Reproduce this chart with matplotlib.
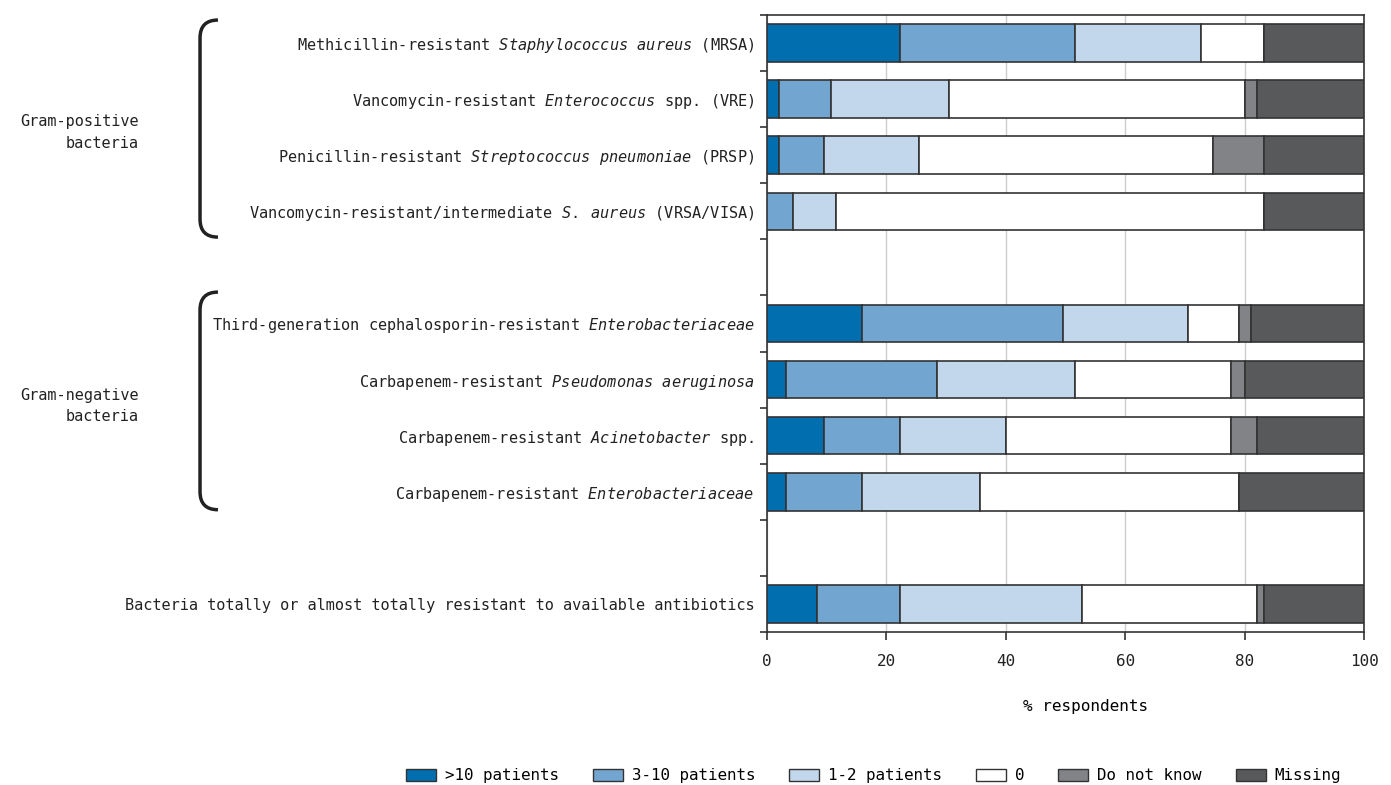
import matplotlib as mpl
import matplotlib.pyplot as plt
import numpy as np
from matplotlib.path import Path
from matplotlib.patches import PathPatch, Patch
from matplotlib.transforms import blended_transform_factory

mpl.rcParams["font.family"] = "DejaVu Sans Mono"
mpl.rcParams["font.size"] = 11
mpl.rcParams["mathtext.fontset"] = "custom"
mpl.rcParams["mathtext.rm"] = "DejaVu Sans Mono"
mpl.rcParams["mathtext.it"] = "DejaVu Sans Mono:italic"

# rows top to bottom, None = blank spacer row
labels = [
    r"Methicillin-resistant $\mathit{Staphylococcus}$ $\mathit{aureus}$ (MRSA)",
    r"Vancomycin-resistant $\mathit{Enterococcus}$ spp. (VRE)",
    r"Penicillin-resistant $\mathit{Streptococcus}$ $\mathit{pneumoniae}$ (PRSP)",
    r"Vancomycin-resistant/intermediate $\mathit{S.}$ $\mathit{aureus}$ (VRSA/VISA)",
    None,
    r"Third-generation cephalosporin-resistant $\mathit{Enterobacteriaceae}$",
    r"Carbapenem-resistant $\mathit{Pseudomonas}$ $\mathit{aeruginosa}$",
    r"Carbapenem-resistant $\mathit{Acinetobacter}$ spp.",
    r"Carbapenem-resistant $\mathit{Enterobacteriaceae}$",
    None,
    "Bacteria totally or almost totally resistant to available antibiotics",
]

over_10 = [22.2, 2.0, 2.0, 0.0, 0, 15.9, 3.2, 9.6, 3.2, 0, 8.4]
p3_10 = [29.4, 8.7, 7.6, 4.3, 0, 33.7, 25.3, 12.6, 12.7, 0, 13.8]
p1_2 = [21.1, 19.8, 15.8, 7.2, 0, 21.0, 23.1, 17.9, 19.8, 0, 30.6]
zero = [10.6, 49.6, 49.3, 71.8, 0, 8.4, 26.2, 37.7, 43.3, 0, 29.3]
dont_know = [0.0, 2.0, 8.6, 0.0, 0, 2.0, 2.3, 4.3, 0.0, 0, 1.2]
missing = [16.7, 17.9, 16.7, 16.7, 0, 19.0, 19.9, 17.9, 21.0, 0, 16.7]

series = [over_10, p3_10, p1_2, zero, dont_know, missing]
series_names = [">10 patients", "3-10 patients", "1-2 patients", "0", "Do not know", "Missing"]
colors = ["#006eaf", "#72a5d0", "#c2d7eb", "#ffffff", "#828387", "#58595b"]

fig = plt.figure(figsize=(13.91, 7.85), dpi=100)
ax = fig.add_axes([0.5514, 0.1949, 0.4292, 0.786])

y = np.arange(len(labels))
rows = [i for i, lab in enumerate(labels) if lab is not None]
left = np.zeros(len(labels))
for vals, col in zip(series, colors):
    vals = np.array(vals, dtype=float)
    ax.barh(y[rows], vals[rows], left=left[rows], height=0.67, color=col,
            edgecolor="#333333", linewidth=1.2, zorder=3)
    left += vals

ax.set_xlim(0, 100)
ax.set_ylim(len(labels) - 0.5, -0.5)
ax.set_xticks(range(0, 101, 20))
ax.xaxis.grid(True, color="#cccccc", linewidth=1, zorder=0)
ax.set_axisbelow(True)

ax.set_yticks(rows)
ax.set_yticklabels([labels[i] for i in rows])
ax.set_yticks(np.arange(-0.5, len(labels), 1.0), minor=True)
ax.tick_params(axis="y", which="major", length=0, pad=9, colors="#222222")
ax.tick_params(axis="y", which="minor", length=5, width=1.2, color="#333333")
ax.tick_params(axis="x", length=6, width=1.2, color="#333333", labelcolor="#222222",
               pad=10, labelsize=11.5)
for sp in ax.spines.values():
    sp.set_color("#333333")
    sp.set_linewidth(1.2)

ax.set_xlabel("% respondents", fontsize=11.5)
ax.xaxis.set_label_coords(0.533, -0.108)

# group brackets
trans = blended_transform_factory(fig.transFigure, ax.transData)
x_line, x_tip = 0.1438, 0.1567


def bracket(top, bottom):
    r = 0.32
    verts = [(x_tip, top), (x_line, top), (x_line, top + r),
             (x_line, bottom - r), (x_line, bottom), (x_tip, bottom)]
    codes = [Path.MOVETO, Path.CURVE3, Path.CURVE3,
             Path.LINETO, Path.CURVE3, Path.CURVE3]
    fig.add_artist(PathPatch(Path(verts, codes), transform=trans, fill=False,
                             edgecolor="#222222", linewidth=2.5, clip_on=False))


bracket(-0.41, 3.46)
bracket(4.44, 8.32)
fig.text(0.0999, 0, "Gram-positive\nbacteria", transform=trans, ha="right", va="center",
         multialignment="right", color="#222222", linespacing=1.55).set_y(1.6)
fig.text(0.0999, 0, "Gram-negative\nbacteria", transform=trans, ha="right", va="center",
         multialignment="right", color="#222222", linespacing=1.55).set_y(6.47)

handles = [Patch(facecolor=c, edgecolor="#333333", linewidth=1.0) for c in colors]
fig.legend(handles, series_names, loc="center", bbox_to_anchor=(0.628, 0.012), ncol=6,
           frameon=False, handlelength=1.9, handleheight=0.8, columnspacing=2.15,
           handletextpad=0.55, fontsize=11.4)

plt.savefig("out.png", dpi=100)
